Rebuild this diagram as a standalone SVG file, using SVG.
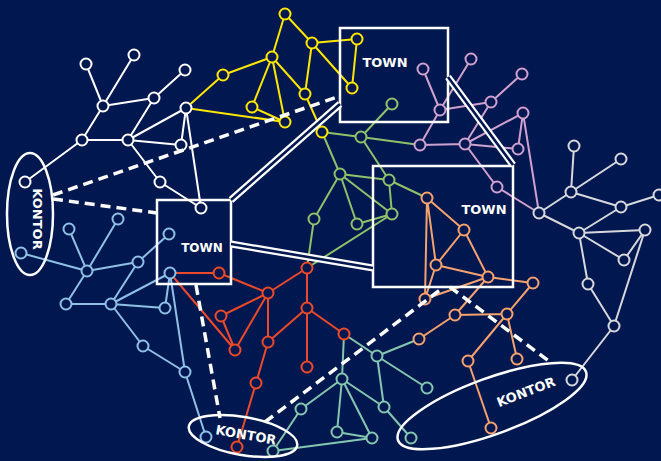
<svg xmlns="http://www.w3.org/2000/svg" width="661" height="461" viewBox="0 0 661 461">
<style>
.e{fill:none;stroke-width:2;stroke-linecap:round}
.n{fill:#00184F;stroke-width:2}
.w{stroke:#FFFFFF}.y{stroke:#FFE600}.g{stroke:#8DC16A}.p{stroke:#CFA1CE}.s{stroke:#D6D8DC}
.o{stroke:#F5A26E}.r{stroke:#EC4A2A}.b{stroke:#8EC0E6}.t{stroke:#84C7B0}
.box{fill:none;stroke:#FFFFFF;stroke-width:2.5}
.lbl{font-family:"DejaVu Sans",Verdana,sans-serif;font-weight:bold;fill:#FFFFFF;text-anchor:middle;dominant-baseline:central}
.road1{fill:none;stroke:#FFFFFF;stroke-width:7}
.road2{fill:none;stroke:#00184F;stroke-width:2.6}
.dash{fill:none;stroke:#FFFFFF;stroke-width:3.5;stroke-dasharray:10 6}
</style>
<rect width="661" height="461" fill="#00184F"/>
<g id="connectors">
<path class="e w" d="M86,64L103,106M134,55L103,106M103,106L154,98M154,98L185,70M103,106L82,140M82,140L128,140M128,140L154,98M128,140L186,108M128,140L181,145M186,108L181,145M82,140L25,182M128,140L160,182M160,182L201,208M186,108L201,208"/>
<path class="e y" d="M285,14L272,57M285,14L312,43M312,43L357,39M357,39L352,88M312,43L352,88M312,43L305,94M272,57L223,75M223,75L186,108M272,57L252,107M272,57L285,122M272,57L305,94M252,107L285,122M186,108L285,122M305,94L322,132"/>
<path class="e g" d="M322,132L361,137M361,137L392,104M361,137L420,145M322,132L340,174M361,137L389,180M340,174L389,180M340,174L314,219M340,174L357,224M340,174L392,214M389,180L392,214M357,224L392,214M389,180L427,198M314,219L307,268M392,214L307,268"/>
<path class="e p" d="M423,69L440,110M471,59L440,110M440,110L420,145M440,110L491,102M491,102L522,74M491,102L465,144M420,145L465,144M465,144L523,113M465,144L518,149M523,113L518,149M465,144L497,187M497,187L539,213M523,113L539,213"/>
<path class="e s" d="M539,213L571,192M571,192L574,146M571,192L621,159M571,192L621,207M621,207L659,195M539,213L579,233M579,233L621,207M579,233L645,230M579,233L624,260M624,260L645,230M579,233L588,284M588,284L614,326M645,230L614,326M614,326L572,380"/>
<path class="e o" d="M427,198L464,230M427,198L425,299M427,198L436,265M464,230L436,265M464,230L488,277M436,265L488,277M436,265L425,299M425,299L488,277M488,277L533,283M488,277L455,315M455,315L507,314M533,283L507,314M455,315L419,339M507,314L468,361M507,314L517,359M468,361L491,428"/>
<path class="e r" d="M170,273L219,273M219,273L268,293M170,273L235,350M268,293L307,268M268,293L221,316M221,316L235,350M268,293L235,350M268,293L268,342M307,268L307,308M307,308L268,342M307,308L344,334M307,308L307,367M268,342L256,383M256,383L237,447"/>
<path class="e b" d="M69,229L87,271M118,219L87,271M21,253L87,271M87,271L138,262M138,262L169,234M87,271L66,304M66,304L111,304M111,304L165,308M111,304L138,262M111,304L170,273M170,273L165,308M170,273L185,372M111,304L143,346M143,346L185,372M185,372L206,437"/>
<path class="e t" d="M344,334L377,356M344,334L342,379M377,356L419,339M377,356L427,388M377,356L384,407M342,379L301,409M342,379L337,432M342,379L372,438M342,379L384,407M337,432L372,438M384,407L411,438M301,409L273,451M273,451L372,438"/>
</g>
<g id="nodes">
<g class="n w">
<circle id="w1" cx="86" cy="64" r="5.5"/><circle id="w2" cx="134" cy="55" r="5.5"/><circle id="w3" cx="185" cy="70" r="5.5"/><circle id="w4" cx="103" cy="106" r="5.5"/><circle id="w5" cx="154" cy="98" r="5.5"/><circle id="w6" cx="186" cy="108" r="5.5"/><circle id="w7" cx="82" cy="140" r="5.5"/><circle id="w8" cx="128" cy="140" r="5.5"/><circle id="w9" cx="181" cy="145" r="5.5"/><circle id="w10" cx="25" cy="182" r="5.5"/><circle id="w11" cx="160" cy="182" r="5.5"/><circle id="w12" cx="201" cy="208" r="5.5"/>
</g>
<g class="n y">
<circle id="y1" cx="285" cy="14" r="5.5"/><circle id="y2" cx="312" cy="43" r="5.5"/><circle id="y3" cx="357" cy="39" r="5.5"/><circle id="y4" cx="272" cy="57" r="5.5"/><circle id="y5" cx="223" cy="75" r="5.5"/><circle id="y6" cx="305" cy="94" r="5.5"/><circle id="y7" cx="352" cy="88" r="5.5"/><circle id="y8" cx="252" cy="107" r="5.5"/><circle id="y9" cx="285" cy="122" r="5.5"/><circle id="y10" cx="322" cy="132" r="5.5"/>
</g>
<g class="n g">
<circle id="g2" cx="392" cy="104" r="5.5"/><circle id="g3" cx="361" cy="137" r="5.5"/><circle id="g4" cx="340" cy="174" r="5.5"/><circle id="g5" cx="389" cy="180" r="5.5"/><circle id="g6" cx="314" cy="219" r="5.5"/><circle id="g7" cx="357" cy="224" r="5.5"/><circle id="g8" cx="392" cy="214" r="5.5"/>
</g>
<g class="n p">
<circle id="p1" cx="423" cy="69" r="5.5"/><circle id="p2" cx="471" cy="59" r="5.5"/><circle id="p3" cx="522" cy="74" r="5.5"/><circle id="p4" cx="440" cy="110" r="5.5"/><circle id="p5" cx="491" cy="102" r="5.5"/><circle id="p6" cx="523" cy="113" r="5.5"/><circle id="p7" cx="420" cy="145" r="5.5"/><circle id="p8" cx="465" cy="144" r="5.5"/><circle id="p9" cx="518" cy="149" r="5.5"/><circle id="p10" cx="497" cy="187" r="5.5"/>
</g>
<g class="n s">
<circle id="s1" cx="539" cy="213" r="5.5"/><circle id="s2" cx="574" cy="146" r="5.5"/><circle id="s3" cx="621" cy="159" r="5.5"/><circle id="s4" cx="571" cy="192" r="5.5"/><circle id="s5" cx="659" cy="195" r="5.5"/><circle id="s6" cx="621" cy="207" r="5.5"/><circle id="s7" cx="579" cy="233" r="5.5"/><circle id="s8" cx="645" cy="230" r="5.5"/><circle id="s9" cx="624" cy="260" r="5.5"/><circle id="s10" cx="588" cy="284" r="5.5"/><circle id="s11" cx="614" cy="326" r="5.5"/><circle id="s12" cx="572" cy="380" r="5.5"/>
</g>
<g class="n o">
<circle id="o1" cx="427" cy="198" r="5.5"/><circle id="o2" cx="464" cy="230" r="5.5"/><circle id="o3" cx="436" cy="265" r="5.5"/><circle id="o4" cx="488" cy="277" r="5.5"/><circle id="o5" cx="533" cy="283" r="5.5"/><circle id="o6" cx="425" cy="299" r="5.5"/><circle id="o7" cx="455" cy="315" r="5.5"/><circle id="o8" cx="507" cy="314" r="5.5"/><circle id="o9" cx="419" cy="339" r="5.5"/><circle id="o10" cx="468" cy="361" r="5.5"/><circle id="o11" cx="517" cy="359" r="5.5"/><circle id="o12" cx="491" cy="428" r="5.5"/>
</g>
<g class="n r">
<circle id="r1" cx="307" cy="268" r="5.5"/><circle id="r2" cx="219" cy="273" r="5.5"/><circle id="r3" cx="268" cy="293" r="5.5"/><circle id="r4" cx="307" cy="308" r="5.5"/><circle id="r5" cx="221" cy="316" r="5.5"/><circle id="r6" cx="235" cy="350" r="5.5"/><circle id="r7" cx="268" cy="342" r="5.5"/><circle id="r8" cx="344" cy="334" r="5.5"/><circle id="r9" cx="307" cy="367" r="5.5"/><circle id="r10" cx="256" cy="383" r="5.5"/><circle id="r11" cx="237" cy="447" r="5.5"/>
</g>
<g class="n b">
<circle id="b0" cx="170" cy="273" r="5.5"/><circle id="b1" cx="118" cy="219" r="5.5"/><circle id="b2" cx="69" cy="229" r="5.5"/><circle id="b3" cx="169" cy="234" r="5.5"/><circle id="b4" cx="21" cy="253" r="5.5"/><circle id="b5" cx="138" cy="262" r="5.5"/><circle id="b6" cx="87" cy="271" r="5.5"/><circle id="b7" cx="66" cy="304" r="5.5"/><circle id="b8" cx="111" cy="304" r="5.5"/><circle id="b9" cx="165" cy="308" r="5.5"/><circle id="b10" cx="143" cy="346" r="5.5"/><circle id="b11" cx="185" cy="372" r="5.5"/><circle id="b12" cx="206" cy="437" r="5.5"/>
</g>
<g class="n t">
<circle id="t1" cx="377" cy="356" r="5.5"/><circle id="t2" cx="342" cy="379" r="5.5"/><circle id="t3" cx="427" cy="388" r="5.5"/><circle id="t4" cx="301" cy="409" r="5.5"/><circle id="t5" cx="384" cy="407" r="5.5"/><circle id="t6" cx="337" cy="432" r="5.5"/><circle id="t7" cx="372" cy="438" r="5.5"/><circle id="t8" cx="411" cy="438" r="5.5"/><circle id="t9" cx="273" cy="451" r="5.5"/>
</g>
</g>
<g id="town1"><rect class="box" x="340" y="28" width="108" height="94"/><text class="lbl" x="385" y="62" font-size="13">TOWN</text></g>
<g id="town2"><rect class="box" x="157" y="200" width="74" height="84"/><text class="lbl" x="202" y="248" font-size="12">TOWN</text></g>
<g id="town3"><rect class="box" x="373" y="166" width="140" height="121"/><text class="lbl" x="484" y="209" font-size="13">TOWN</text></g>
<g id="kontor-left"><ellipse class="box" cx="30" cy="214" rx="23" ry="61"/><text class="lbl" x="37" y="219" font-size="13" transform="rotate(90 37 219)">KONTOR</text></g>
<g id="kontor-bottom"><ellipse class="box" cx="243" cy="436" rx="55" ry="19" transform="rotate(10 243 436)"/><text class="lbl" x="246" y="435" font-size="13" transform="rotate(10 246 435)">KONTOR</text></g>
<g id="kontor-right"><ellipse class="box" cx="492" cy="406" rx="100" ry="28" transform="rotate(-20 492 406)"/><text class="lbl" x="526" y="392" font-size="13" transform="rotate(-21 526 392)">KONTOR</text></g>
<g id="links">
<path class="road1" d="M231,200L340,104M231,244L373,268M448,77L513,165"/>
<path class="road2" d="M231,200L340,104M231,244L373,268M448,77L513,165"/>
<path class="dash" d="M53,195L340,96M53,199L157,213M196,285L220,418M265,422L444,287M450,287L550,362"/>
</g>
</svg>
